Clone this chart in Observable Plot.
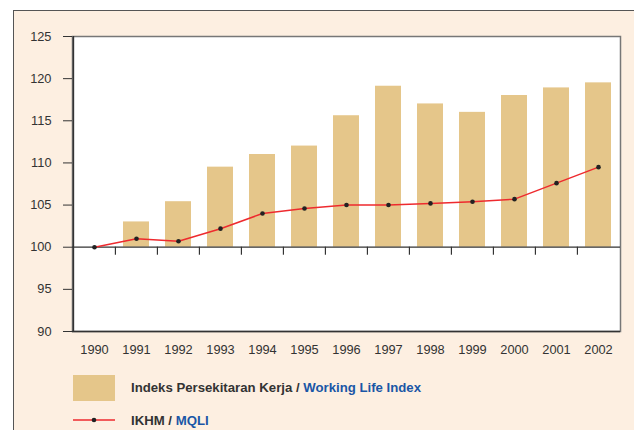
<!DOCTYPE html>
<html>
<head>
<meta charset="utf-8">
<script src="https://cdn.jsdelivr.net/npm/d3@7"></script>
<script src="https://cdn.jsdelivr.net/npm/@observablehq/plot@0.6"></script>
<style>
  html, body { margin: 0; padding: 0; background: #ffffff; }
  body { width: 634px; height: 430px; position: relative; overflow: hidden; font-family: "Liberation Sans", Arial, sans-serif; }
  #panel { position: absolute; left: 13px; top: 10px; width: 630px; height: 430px; background: #fdefe1; border-left: 1.5px solid #555; border-top: 1.5px solid #555; }
  #chart { position: absolute; left: 0; top: 0; }
  #chart svg { background: transparent; }
  .leg { position: absolute; font-weight: bold; font-size: 13.2px; line-height: 15px; color: #333; white-space: nowrap; }
  .leg .en { color: #1a56a6; }
  .sw { position: absolute; left: 73px; top: 375px; width: 42px; height: 26px; background: #e5c68a; }
</style>
</head>
<body>
<div id="panel"></div>
<div id="chart"></div>
<div class="sw"></div>
<svg id="lineSw" style="position:absolute;left:73px;top:414px" width="42" height="12">
  <line x1="0" y1="6" x2="42" y2="6" stroke="#ee2a2e" stroke-width="1.5"></line>
  <circle cx="21" cy="6" r="2.3" fill="#222"></circle>
</svg>
<div class="leg" style="left:131px; top:380px;">Indeks Persekitaran Kerja / <span class="en">Working Life Index</span></div>
<div class="leg" style="left:131px; top:413px;">IKHM / <span class="en">MQLI</span></div>
<script>
const years = ["1990","1991","1992","1993","1994","1995","1996","1997","1998","1999","2000","2001","2002"];
const workingLifeIndex = [100, 103.0, 105.4, 109.5, 111.0, 112.0, 115.6, 119.1, 117.0, 116.0, 118.0, 118.9, 119.5];
const mqli = [100, 101.0, 100.7, 102.2, 104.0, 104.6, 105.0, 105.0, 105.2, 105.4, 105.7, 107.6, 109.5];
const yTicks = [90, 95, 100, 105, 110, 115, 120, 125];

const bars = years.map((y, i) => ({year: y, value: workingLifeIndex[i]}));
const line = years.map((y, i) => ({year: y, value: mqli[i]}));

const W = 634, mL = 72, mR = 14;
const step = (W - mL - mR) / years.length;

const plot = Plot.plot({
  width: W,
  height: 365,
  marginLeft: mL,
  marginRight: mR,
  marginTop: 36,
  marginBottom: 34,
  style: {background: "transparent", fontFamily: "'Liberation Sans', Arial, sans-serif", fontSize: "12.8px", color: "#333"},
  x: {type: "band", domain: years, paddingInner: 0.38, paddingOuter: 0.19, label: null},
  y: {domain: [90, 125], ticks: yTicks, label: null},
  marks: [
    Plot.frame({fill: "white", stroke: "#777", strokeWidth: 1.5}),
    Plot.barY(bars, {x: "year", y1: 100, y2: "value", fill: "#e5c68a"}),
    Plot.ruleY([100], {stroke: "#333", strokeWidth: 1.2}),
    Plot.ruleX(years.slice(1), {x: d => d, y1: 100, y2: 99.05, stroke: "#333", strokeWidth: 1.2, dx: -step / 2}),
    Plot.ruleX([years[0]], {y1: 90, y2: 125, stroke: "#333", strokeWidth: 1.5, dx: -step / 2}),
    Plot.ruleY([90], {stroke: "#333", strokeWidth: 1.5}),
    Plot.axisY({ticks: yTicks, tickSize: 9, tickPadding: 12, stroke: "#333", fill: "#333", tickFormat: d => String(d)}),
    Plot.axisX({tickSize: 0, tickPadding: 13, fill: "#333"}),
    Plot.line(line, {x: "year", y: "value", stroke: "#ee2a2e", strokeWidth: 1.5}),
    Plot.dot(line, {x: "year", y: "value", r: 2.3, fill: "#222"})
  ]
});
document.getElementById("chart").appendChild(plot);
</script>
</body>
</html>
